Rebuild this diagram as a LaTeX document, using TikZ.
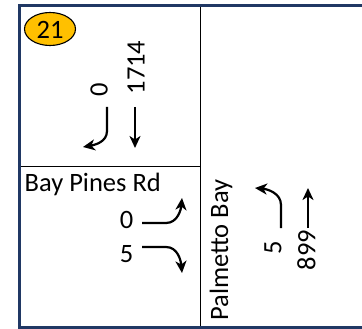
\documentclass[tikz,border=0pt]{standalone}
\usepackage{fontspec}
\setmainfont{Carlito}
\usetikzlibrary{arrows.meta,shapes.geometric}
\definecolor{navy}{HTML}{203864}
\definecolor{badge}{HTML}{FFC000}
\tikzset{
  lbl/.style={inner sep=0pt, font=\fontsize{26.5}{30}\selectfont},
  mv/.style={line width=2.2pt, -{Stealth[length=12pt,width=11pt,inset=3.5pt]}},
  divider/.style={line width=0.9pt, black},
  frame/.style={line width=2.6pt, navy},
}
\begin{document}
\begin{tikzpicture}[x=1pt,y=-1pt]
\useasboundingbox (0,0) rectangle (362,329);
% frame and dividers
\draw[divider] (200,5) -- (200,327);
\draw[divider] (19.5,166) -- (200,166);
\draw[frame] (19.5,5.5) -- (19.5,327.5);
\draw[frame] (18.2,5.5) -- (364,5.5);
\draw[frame] (18.2,327.5) -- (364,327.5);
% badge
\node[draw, line width=1.1pt, fill=badge, ellipse, minimum width=51pt, minimum height=33pt, inner sep=0pt] (badge) at (50,29) {};
\node[lbl] (num) at (50,29.5) {21};
% southbound
\node[lbl, rotate=90] (sbl) at (99,90) {0};
\node[lbl, rotate=90] (sbt) at (136,67.5) {1714};
\coordinate (sbls) at (107,107);
\coordinate (sblm) at (107,131);
\coordinate (sble) at (83,147);
\coordinate (sbts) at (135,107);
\coordinate (sbte) at (135,148);
\draw[mv] (sbls) -- (sblm) to[out=-90,in=10] (sble);
\draw[mv] (sbts) -- (sbte);
% eastbound
\node[lbl, anchor=base west] (bp) at (24.5,191) {Bay Pines Rd};
\node[lbl, anchor=base east] (ebl) at (133.5,228) {0};
\node[lbl, anchor=base east] (ebr) at (133.5,262) {5};
\coordinate (ebls) at (142,223);
\coordinate (eblm) at (166,223);
\coordinate (eble) at (182,198);
\coordinate (ebrs) at (142,247);
\coordinate (ebrm) at (166,247);
\coordinate (ebre) at (182,273);
\draw[mv] (ebls) -- (eblm) to[out=0,in=-95] (eble);
\draw[mv] (ebrs) -- (ebrm) to[out=0,in=95] (ebre);
% northbound
\node[lbl, rotate=90, anchor=base west] (pb) at (228,321) {Palmetto Bay};
\node[lbl, rotate=90] (nbl) at (273,248) {5};
\node[lbl, rotate=90] (nbt) at (306.5,250) {899};
\coordinate (nbls) at (281,228);
\coordinate (nblm) at (281,205);
\coordinate (nble) at (255,188);
\coordinate (nbts) at (308,228);
\coordinate (nbte) at (308,188);
\draw[mv] (nbls) -- (nblm) to[out=90,in=-5] (nble);
\draw[mv] (nbts) -- (nbte);
\end{tikzpicture}
\end{document}
